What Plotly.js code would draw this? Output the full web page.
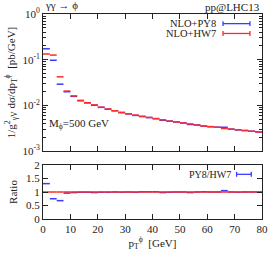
<!DOCTYPE html>
<html><head><meta charset="utf-8">
<script src="https://cdn.plot.ly/plotly-3.0.1.min.js"></script>
<style>html,body{margin:0;padding:0;background:#fff}#c{width:270px;height:256px}</style>
</head><body><div id="c"></div>
<script>
// bin edges (GeV)
const binEdges = [0,2.5,5,7.5,10,12.5,15,17.5,20,22.5,25,27.5,30,32.5,35,37.5,40,42.5,45,47.5,50,52.5,55,57.5,60,62.5,65,67.5,70,72.5,75,77.5,80];
// NLO+HW7
const hw7 = [0.133,0.126,0.042,0.0205,0.0160,0.0128,0.0114,0.0102,0.0091,0.0083,0.0076,0.0070,0.0065,0.0061,0.0057,0.0054,0.0051,0.0048,0.0045,0.0043,0.0041,0.0039,0.0037,0.0035,0.0034,0.0033,0.0031,0.0030,0.0029,0.0028,0.0027,0.0026];
// NLO+PY8
const py8 = [0.173,0.097,0.029,0.0198,0.0157,0.0126,0.0113,0.0100,0.0090,0.0082,0.0076,0.0069,0.0065,0.0060,0.0057,0.0054,0.0051,0.0047,0.0045,0.0043,0.0041,0.0038,0.0037,0.0035,0.0034,0.0033,0.0033,0.0030,0.0029,0.0028,0.0027,0.0026];
// ratio PY8/HW7
const ratioPY8 = [1.31,0.75,0.68,0.96,0.98,0.99,0.99,0.98,0.99,0.99,1.0,0.99,1.0,0.99,1.01,1.01,1.01,0.98,0.99,1.0,1.0,0.98,1.0,1.01,1.0,1.0,1.05,1.0,0.99,1.0,1.0,1.0];
const ratioHW7 = [1,1,1,1,1,1,1,1,1,1,1,1,1,1,1,1,1,1,1,1,1,1,1,1,1,1,1,1,1,1,1,1];
// tick labels
const logTickVals = [1,0.1,0.01,0.001];
const logTickText = ['10<sup>0</sup>','10<sup>-1</sup>','10<sup>-2</sup>','10<sup>-3</sup>'];
const ratioTickVals = [0,0.5,1,1.5,2];
const ratioTickText = ['0','0.5','1','1.5','2'];
const xTickVals = [0,10,20,30,40,50,60,70,80];

function seg(vals){
  const x=[],y=[];
  for(let i=0;i<vals.length;i++){x.push(binEdges[i],binEdges[i+1],null);y.push(vals[i],vals[i],null);}
  return {x,y};
}
const BLUE='#3a3aff', RED='#ff2a2a';
const F='Liberation Serif';
const s1=seg(py8), s2=seg(hw7), s3=seg(ratioPY8), s4=seg(ratioHW7);
const data=[
 {x:s1.x,y:s1.y,mode:'lines',line:{color:BLUE,width:1.5},xaxis:'x',yaxis:'y',showlegend:false,connectgaps:false},
 {x:s2.x,y:s2.y,mode:'lines',line:{color:RED,width:1.5},xaxis:'x',yaxis:'y',showlegend:false,connectgaps:false},
 {x:s3.x,y:s3.y,mode:'lines',line:{color:BLUE,width:1.5},xaxis:'x2',yaxis:'y2',showlegend:false,connectgaps:false},
 {x:s4.x,y:s4.y,mode:'lines',line:{color:RED,width:1.5},xaxis:'x2',yaxis:'y2',showlegend:false,connectgaps:false}
];
const ax={showline:true,linecolor:'#222',linewidth:1,mirror:'ticks',ticks:'inside',ticklen:5,tickcolor:'#222',showgrid:false,zeroline:false,tickfont:{family:F,size:11,color:'#222'}};
const layout={
 width:270,height:256,margin:{l:43,r:8,t:14,b:37},paper_bgcolor:'#fff',plot_bgcolor:'#fff',
 font:{family:F,size:11,color:'#222'},
 xaxis:Object.assign({},ax,{domain:[0,1],range:[0,80],tickvals:xTickVals,showticklabels:false,anchor:'y'}),
 yaxis:Object.assign({},ax,{domain:[0.332,1],type:'log',range:[-3,0],tickvals:logTickVals,ticktext:logTickText,
   minor:{ticks:'inside',ticklen:3,tickcolor:'#222',showgrid:false,dtick:'D1'},anchor:'x',
   title:{text:'1/g<sup>2</sup><sub>γV</sub> dσ/dp<sub>T</sub><sup>ϕ</sup>  [pb/GeV]',font:{family:F,size:11},standoff:4}}),
 xaxis2:Object.assign({},ax,{domain:[0,1],range:[0,80],tickvals:xTickVals,anchor:'y2',
   title:{text:'p<sub>T</sub><sup>ϕ</sup>  [GeV]',font:{family:F,size:11},standoff:4}}),
 yaxis2:Object.assign({},ax,{domain:[0,0.2634],range:[0,2],tickvals:ratioTickVals,ticktext:ratioTickText,anchor:'x2',
   title:{text:'Ratio',font:{family:F,size:11},standoff:6}}),
 annotations:[
  {xref:'paper',yref:'paper',x:0.0,y:1.044,xanchor:'left',yanchor:'middle',text:'γγ → ϕ',showarrow:false,font:{family:F,size:11}},
  {xref:'paper',yref:'paper',x:1.0,y:1.036,xanchor:'right',yanchor:'middle',text:'pp@LHC13',showarrow:false,font:{family:F,size:11}},
  {xref:'paper',yref:'paper',x:0.80,y:0.953,xanchor:'right',yanchor:'middle',text:'NLO+PY8',showarrow:false,font:{family:F,size:10.5}},
  {xref:'paper',yref:'paper',x:0.80,y:0.905,xanchor:'right',yanchor:'middle',text:'NLO+HW7',showarrow:false,font:{family:F,size:10.5}},
  {xref:'paper',yref:'paper',x:0.018,y:0.463,xanchor:'left',yanchor:'middle',text:'M<sub>ϕ</sub>=500 GeV',showarrow:false,font:{family:F,size:11}},
  {xref:'paper',yref:'paper',x:0.868,y:0.218,xanchor:'right',yanchor:'middle',text:'PY8/HW7',showarrow:false,font:{family:F,size:10}}
 ],
 shapes:[]
};
function legSample(x0,x1,y,color){
  const h=0.012;
  layout.shapes.push({type:'line',xref:'paper',yref:'paper',x0:x0,x1:x1,y0:y,y1:y,line:{color:color,width:1.3}});
  layout.shapes.push({type:'line',xref:'paper',yref:'paper',x0:x0,x1:x0,y0:y-h,y1:y+h,line:{color:color,width:1.3}});
  layout.shapes.push({type:'line',xref:'paper',yref:'paper',x0:x1,x1:x1,y0:y-h,y1:y+h,line:{color:color,width:1.3}});
}
legSample(0.822,0.945,0.953,BLUE);
legSample(0.822,0.945,0.905,RED);
legSample(0.884,0.951,0.218,BLUE);
Plotly.newPlot('c',data,layout,{staticPlot:true,displayModeBar:false});
</script></body></html>
